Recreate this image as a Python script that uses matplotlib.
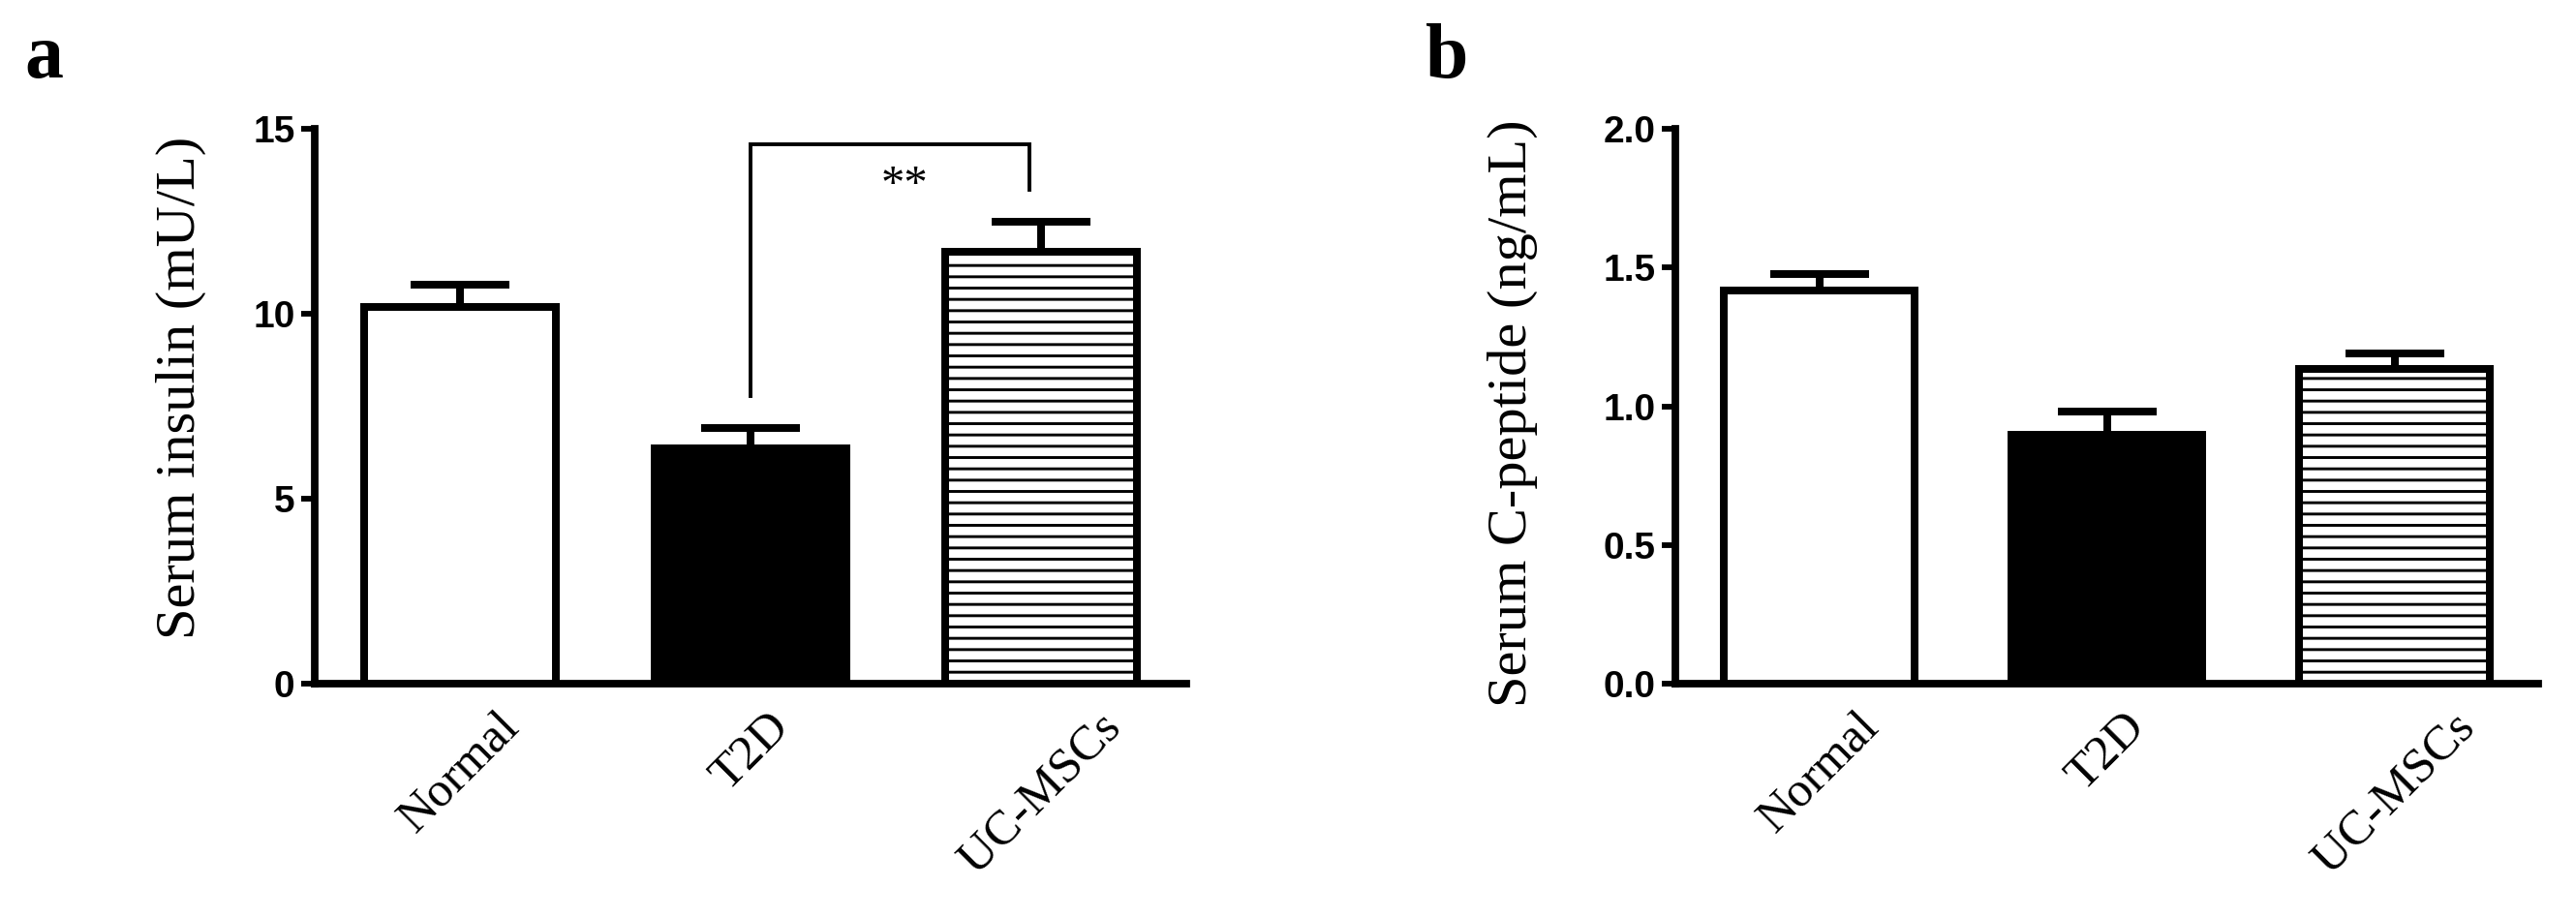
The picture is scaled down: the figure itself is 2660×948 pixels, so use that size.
import matplotlib
matplotlib.use("Agg")
import matplotlib.pyplot as plt
from matplotlib.ticker import FormatStrFormatter

# ---- data ----
groups = ["Normal", "T2D", "UC-MSCs"]
insulin_mean = [10.19, 6.36, 11.68]
insulin_sem = [0.59, 0.54, 0.80]
cpep_mean = [1.417, 0.897, 1.135]
cpep_sem = [0.061, 0.083, 0.055]
insulin_ticks = [0, 5, 10, 15]
cpep_ticks = [0.0, 0.5, 1.0, 1.5, 2.0]
sig_label = "**"
sig_pair = (1, 1.96)
sig_heights = (7.77, 14.58, 13.35)  # left leg bottom, top, right leg bottom

plt.rcParams["hatch.linewidth"] = 1.5
DPI = 140
fig = plt.figure(figsize=(2660 / DPI, 948 / DPI), dpi=DPI)

serif = "Liberation Serif"
sans = "Liberation Sans"

fills = ["white", "black", "white"]
hatches = [None, None, "--"]


def panel(rect, means, sems, ticks, fmt):
    ax = fig.add_axes(rect)
    x = list(range(len(groups)))
    bars = ax.bar(x, means, width=0.66, color=fills, edgecolor="black",
                  linewidth=4.1, zorder=3)
    for b, h in zip(bars, hatches):
        if h:
            b.set_hatch(h)
    ax.errorbar(x, means, yerr=[[0] * len(sems), sems], fmt="none",
                ecolor="black", elinewidth=4.1, capsize=26, capthick=4.1,
                zorder=2)
    ax.set_xlim(-0.5, 2.5)
    ax.set_ylim(ticks[0], ticks[-1])
    ax.spines["top"].set_visible(False)
    ax.spines["right"].set_visible(False)
    for s in ("left", "bottom"):
        ax.spines[s].set_linewidth(4.0)
    ax.spines["left"].set_bounds(ticks[0], ticks[-1])
    ax.set_yticks(ticks)
    ax.yaxis.set_major_formatter(FormatStrFormatter(fmt))
    ax.tick_params(axis="y", length=7, width=3, pad=3.5, labelsize=20)
    for lab in ax.get_yticklabels():
        lab.set_fontfamily(sans)
        lab.set_fontweight("bold")
    ax.set_xticks(x)
    ax.set_xticklabels(groups, rotation=45, ha="center", va="top",
                       fontsize=26, fontfamily=serif)
    ax.tick_params(axis="x", length=0, pad=11)
    return ax


ax1 = panel([325 / 2660, (948 - 706) / 948, 900 / 2660, 573 / 948],
            insulin_mean, insulin_sem, insulin_ticks, "%d")
ax2 = panel([1730 / 2660, (948 - 706) / 948, 891 / 2660, 573 / 948],
            cpep_mean, cpep_sem, cpep_ticks, "%.1f")

# significance bracket
xl, xr = sig_pair
yb_l, yt, yb_r = sig_heights
ax1.plot([xl, xl, xr, xr], [yb_l, yt, yt, yb_r], color="black", lw=2.0,
         solid_joinstyle="miter", clip_on=False, zorder=4)
ax1.text(1.53, 13.13, sig_label, ha="center", va="baseline", fontsize=25,
         fontfamily=serif, zorder=4)

# y labels
fig.text(187 / 2660, 1 - 400 / 948, "Serum insulin (mU/L)", rotation=90,
         ha="center", va="center", fontsize=30, fontfamily=serif)
fig.text(1562 / 2660, 1 - 427 / 948, "Serum C-peptide (ng/mL)", rotation=90,
         ha="center", va="center", fontsize=30, fontfamily=serif)

# panel letters
fig.text(25 / 2660, 1 - 80 / 948, "a", ha="left", va="baseline", fontsize=41,
         fontweight="bold", fontfamily=serif)
fig.text(1472 / 2660, 1 - 80 / 948, "b", ha="left", va="baseline", fontsize=41,
         fontweight="bold", fontfamily=serif)

fig.savefig("out.png", dpi=DPI, facecolor="white")
